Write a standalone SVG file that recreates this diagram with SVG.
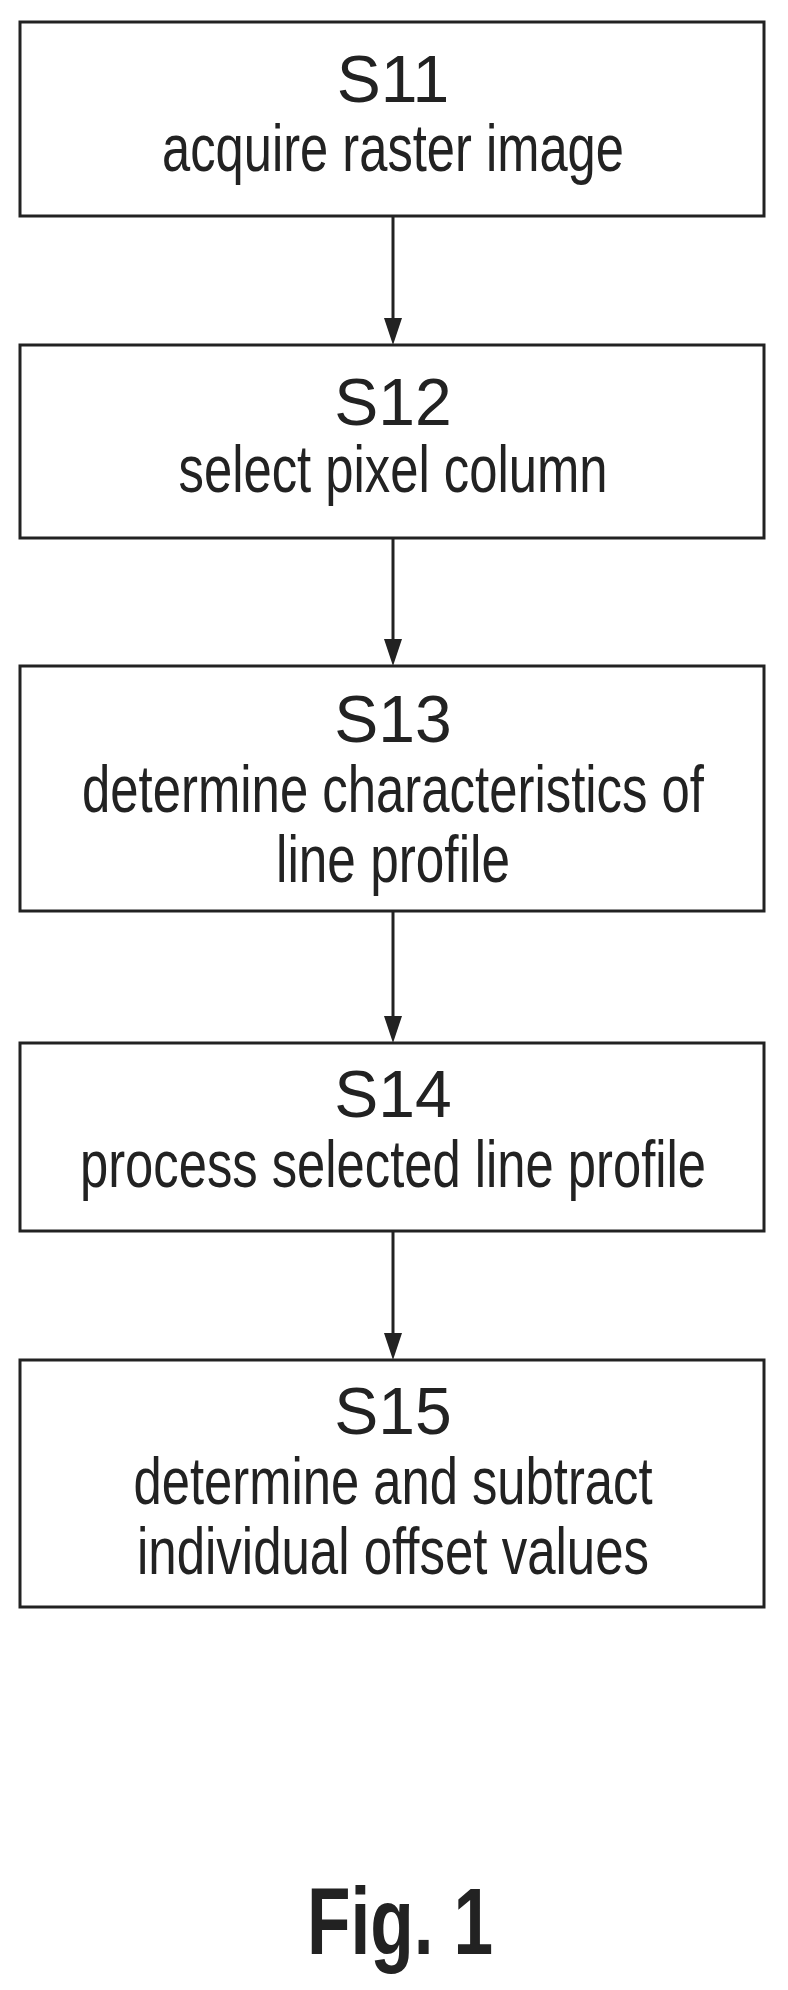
<svg xmlns="http://www.w3.org/2000/svg" width="788" height="1990" viewBox="0 0 788 1990">
<style>
.box{fill:#fff;stroke:#222;stroke-width:3}
.t{font-family:"Liberation Sans Narrow","Liberation Sans",Arial,sans-serif;font-size:66px;fill:#222;text-anchor:middle}
.c{stroke:#222;stroke-width:3;fill:none}
.f{font-family:"Liberation Sans",Arial,sans-serif;font-size:94px;font-weight:bold;fill:#222;text-anchor:middle}
</style>
<rect width="788" height="1990" fill="#fff"/>
<g id="connectors">
<line class="c" x1="393" y1="216" x2="393" y2="320"/><path d="M384,318 L402,318 L393,345 Z" fill="#222"/>
<line class="c" x1="393" y1="538" x2="393" y2="641"/><path d="M384,639 L402,639 L393,666 Z" fill="#222"/>
<line class="c" x1="393" y1="911" x2="393" y2="1018"/><path d="M384,1016 L402,1016 L393,1043 Z" fill="#222"/>
<line class="c" x1="393" y1="1231" x2="393" y2="1335"/><path d="M384,1333 L402,1333 L393,1360 Z" fill="#222"/>
</g>
<g id="s11"><rect class="box" x="20" y="22" width="744" height="194"/>
<text class="t" x="393" y="102">S11</text><text class="t" x="393" y="171" textLength="462" lengthAdjust="spacingAndGlyphs">acquire raster image</text></g>
<g id="s12"><rect class="box" x="20" y="345" width="744" height="193"/>
<text class="t" x="393" y="425">S12</text><text class="t" x="393" y="492" textLength="429" lengthAdjust="spacingAndGlyphs">select pixel column</text></g>
<g id="s13"><rect class="box" x="20" y="666" width="744" height="245"/>
<text class="t" x="393" y="742">S13</text><text class="t" x="393" y="812" textLength="622" lengthAdjust="spacingAndGlyphs">determine characteristics of</text><text class="t" x="393" y="882" textLength="234" lengthAdjust="spacingAndGlyphs">line profile</text></g>
<g id="s14"><rect class="box" x="20" y="1043" width="744" height="188"/>
<text class="t" x="393" y="1117">S14</text><text class="t" x="393" y="1187" textLength="626" lengthAdjust="spacingAndGlyphs">process selected line profile</text></g>
<g id="s15"><rect class="box" x="20" y="1360" width="744" height="247"/>
<text class="t" x="393" y="1434">S15</text><text class="t" x="393" y="1504" textLength="519" lengthAdjust="spacingAndGlyphs">determine and subtract</text><text class="t" x="393" y="1574" textLength="512" lengthAdjust="spacingAndGlyphs">individual offset values</text></g>
<text class="f" x="400" y="1954" textLength="186" lengthAdjust="spacingAndGlyphs">Fig. 1</text>
</svg>
